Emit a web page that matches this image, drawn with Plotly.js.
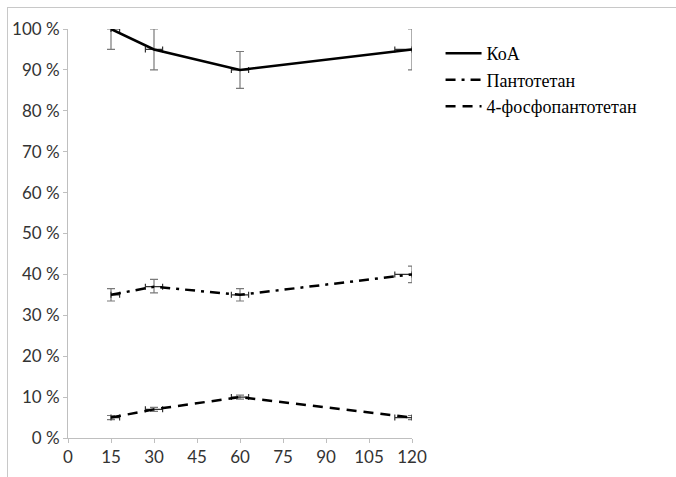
<!DOCTYPE html>
<html>
<head>
<meta charset="utf-8">
<script src="https://cdn.plot.ly/plotly-3.0.1.min.js"></script>
<style>
html,body{margin:0;padding:0;background:#fff;overflow:hidden;}
#chart{width:676px;height:477px;position:absolute;left:0;top:0;}
#frame{position:absolute;left:7px;top:7px;width:700px;height:500px;border-left:1px solid #c8c8c8;border-top:1px solid #c8c8c8;pointer-events:none;}
</style>
</head>
<body>
<div id="chart"></div>
<div id="frame"></div>
<script>
const times = [15, 30, 60, 120];
const xTicks = [0, 15, 30, 45, 60, 75, 90, 105, 120];
const yTicks = [0, 10, 20, 30, 40, 50, 60, 70, 80, 90, 100];
const yTickLabels = ["0 %", "10 %", "20 %", "30 %", "40 %", "50 %", "60 %", "70 %", "80 %", "90 %", "100 %"];

const names = ["КоА", "Пантотетан", "4-фосфопантотетан"];
const koa = [100, 95, 90, 95];
const koaErrPlus = [0, 5, 4.5, 5];
const koaErrMinus = [5, 5, 4.5, 5];
const pant = [35, 37, 35, 40];
const pantErrPlus = [1.5, 1.8, 1.5, 2];
const pantErrMinus = [1.5, 1.5, 1.5, 2];
const phos = [5, 7, 10, 5];
const phosErrPlus = [0.5, 0.5, 0.5, 0.5];
const phosErrMinus = [0.5, 0.5, 0.5, 0.5];
const xErrPlus = [3, 3, 3, 0];
const xErrMinus = [0, 3, 3, 6];

const errColor = '#7a7a7a';
function errY(plus, minus){
  return {type:'data', symmetric:false, array:plus, arrayminus:minus, color:errColor, thickness:1.2, width:4};
}
function errX(){
  return {type:'data', symmetric:false, array:xErrPlus, arrayminus:xErrMinus, color:'#333', thickness:1.2, width:3};
}

const traces = [
  {x:times, y:koa, name:names[0], mode:'lines', line:{color:'#000', width:2.5},
   error_y:errY(koaErrPlus, koaErrMinus), error_x:errX()},
  {x:times, y:pant, name:names[1], mode:'lines', line:{color:'#000', width:2.5, dash:'10px,6px,3px,6px'},
   error_y:errY(pantErrPlus, pantErrMinus), error_x:errX()},
  {x:times, y:phos, name:names[2], mode:'lines', line:{color:'#000', width:2.5, dash:'10px,7px'},
   error_y:errY(phosErrPlus, phosErrMinus), error_x:errX()}
];

const serif = 'Times New Roman, Tinos, Noto Serif, DejaVu Serif, Liberation Serif';
const sans = 'Lato';

const layout = {
  width:676, height:477,
  margin:{l:68, r:264, t:29, b:39},
  paper_bgcolor:'#fff', plot_bgcolor:'#fff',
  font:{family:serif, size:18, color:'#000'},
  showlegend:true,
  legend:{x:1.083, y:0.985, xanchor:'left', yanchor:'top', bgcolor:'rgba(0,0,0,0)',
          font:{family:serif, size:18, color:'#000'},
          tracegroupgap:0, itemwidth:36},
  xaxis:{range:[0,120], tickmode:'array', tickvals:xTicks, ticktext:xTicks.map(String),
         showgrid:false, zeroline:false, showline:true, linecolor:'#bfbfbf', linewidth:1,
         ticks:'outside', ticklen:4, tickcolor:'#bfbfbf',
         tickfont:{family:sans, size:17, color:'#333'}},
  yaxis:{range:[0,100], tickmode:'array', tickvals:yTicks, ticktext:yTickLabels,
         showgrid:false, zeroline:false, showline:true, linecolor:'#bfbfbf', linewidth:1,
         ticks:'outside', ticklen:4, tickcolor:'#bfbfbf',
         tickfont:{family:sans, size:17, color:'#333'}}
};

Plotly.newPlot('chart', traces, layout, {displayModeBar:false, staticPlot:true});
</script>
</body>
</html>
